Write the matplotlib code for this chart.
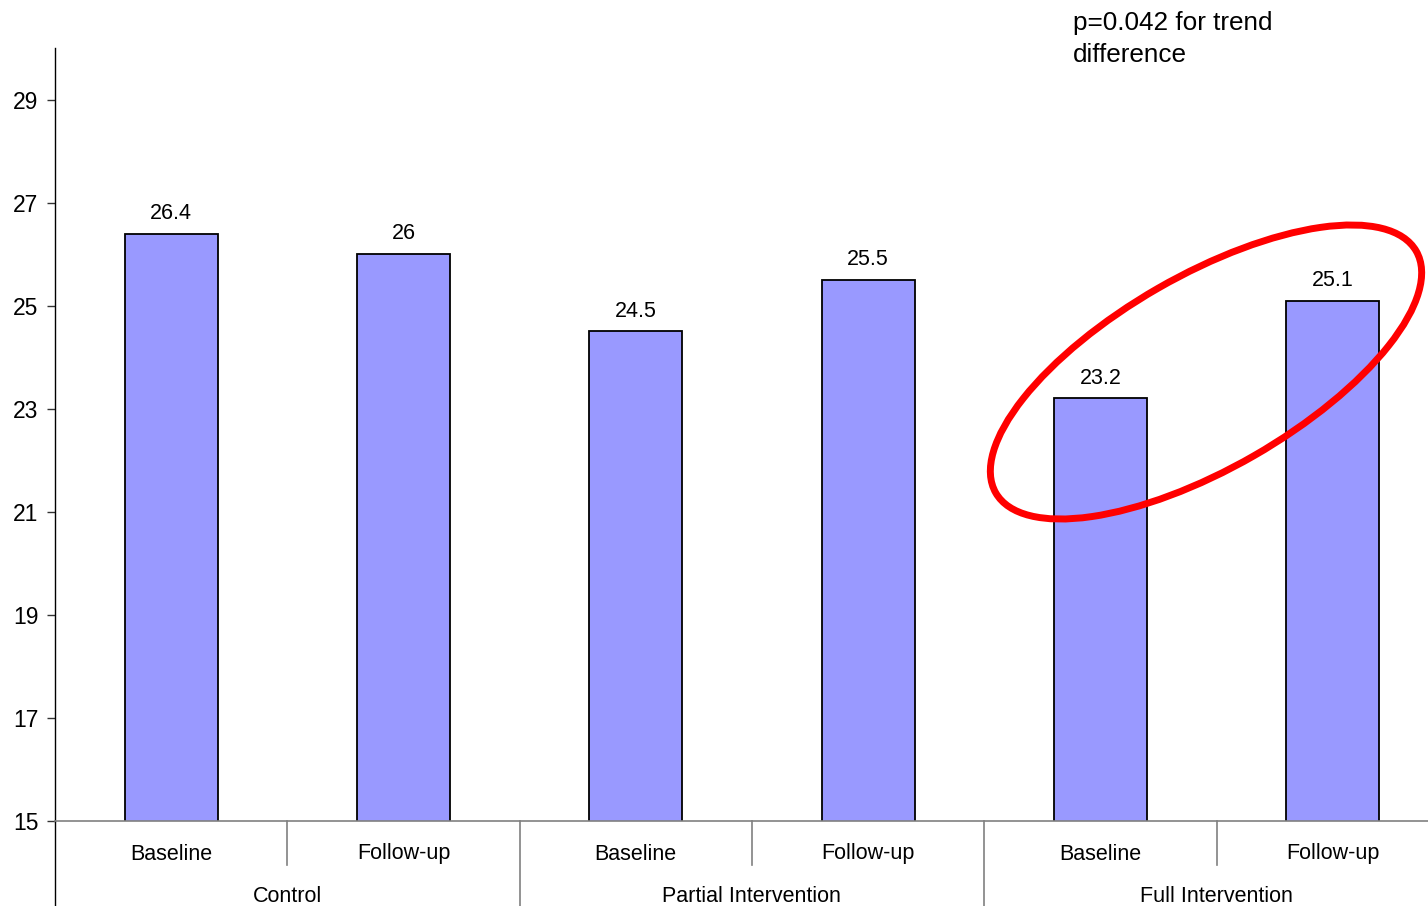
import matplotlib
matplotlib.use("Agg")
import matplotlib.pyplot as plt
from matplotlib.patches import Ellipse
from matplotlib.lines import Line2D
from matplotlib.transforms import IdentityTransform, blended_transform_factory

plt.rcParams['font.family'] = ['Liberation Sans', 'DejaVu Sans']

# Mean scores by study arm and time point
groups = ["Control", "Partial Intervention", "Full Intervention"]
timepoints = ["Baseline", "Follow-up"]
values = [26.4, 26.0, 24.5, 25.5, 23.2, 25.1]
value_labels = ["26.4", "26", "24.5", "25.5", "23.2", "25.1"]
yticks = [15, 17, 19, 21, 23, 25, 27, 29]
note = "p=0.042 for trend\ndifference"

W, H = 1428, 906
fig = plt.figure(figsize=(W / 100, H / 100), dpi=100)
ax_left, ax_bottom, ax_top = 55, 85, 48
cat_w = 232.3
ax = fig.add_axes([ax_left / W, ax_bottom / H, 6 * cat_w / W, (H - ax_top - ax_bottom) / H])

x = list(range(len(values)))
bars = ax.bar(x, values, width=0.4, color="#9999FF", edgecolor="black", linewidth=1.3, zorder=2)
ax.bar_label(bars, labels=value_labels, padding=7, fontsize=15.5)

ax.set_xlim(-0.5, len(values) - 0.5)
ax.set_ylim(15, 30)
ax.set_yticks(yticks)
ax.tick_params(axis='y', labelsize=16.5, length=6, width=1, direction='out', color='#333333', pad=6)
ax.set_xticks([])
for s in ("top", "right"):
    ax.spines[s].set_visible(False)
ax.spines["left"].set_color("black")
ax.spines["left"].set_linewidth(1)
ax.spines["bottom"].set_color("#808080")
ax.spines["bottom"].set_linewidth(1.2)

# Two-level category axis drawn below the plot
tr = blended_transform_factory(ax.transData, IdentityTransform())
y_axis = ax_bottom
for i in range(len(values)):
    ax.text(i, H - 854, timepoints[i % 2], transform=tr, ha="center", va="center", fontsize=15.5)
for g, name in enumerate(groups):
    ax.text(2 * g + 0.5, H - 897, name, transform=tr, ha="center", va="center", fontsize=15.5)
for xs in (0.5, 2.5, 4.5):
    ax.add_line(Line2D([xs, xs], [y_axis, H - 865], transform=tr, color="#808080", lw=1.2, clip_on=False))
for xs in (1.5, 3.5):
    ax.add_line(Line2D([xs, xs], [y_axis, 0], transform=tr, color="#808080", lw=1.2, clip_on=False))
ax.add_line(Line2D([-0.5, -0.5], [y_axis, 0], transform=tr, color="black", lw=1, clip_on=False))

# Highlight around the full-intervention pair
ell = Ellipse((1206, H - 372), width=485, height=193, angle=29.9,
              fill=False, edgecolor="#FF0000", linewidth=5, transform=IdentityTransform(), clip_on=False, zorder=5)
fig.add_artist(ell)

fig.text(1073 / W, 1 - 11 / H, note, ha="left", va="top", fontsize=18.8, linespacing=1.42)

fig.savefig("out.png", dpi=100)
